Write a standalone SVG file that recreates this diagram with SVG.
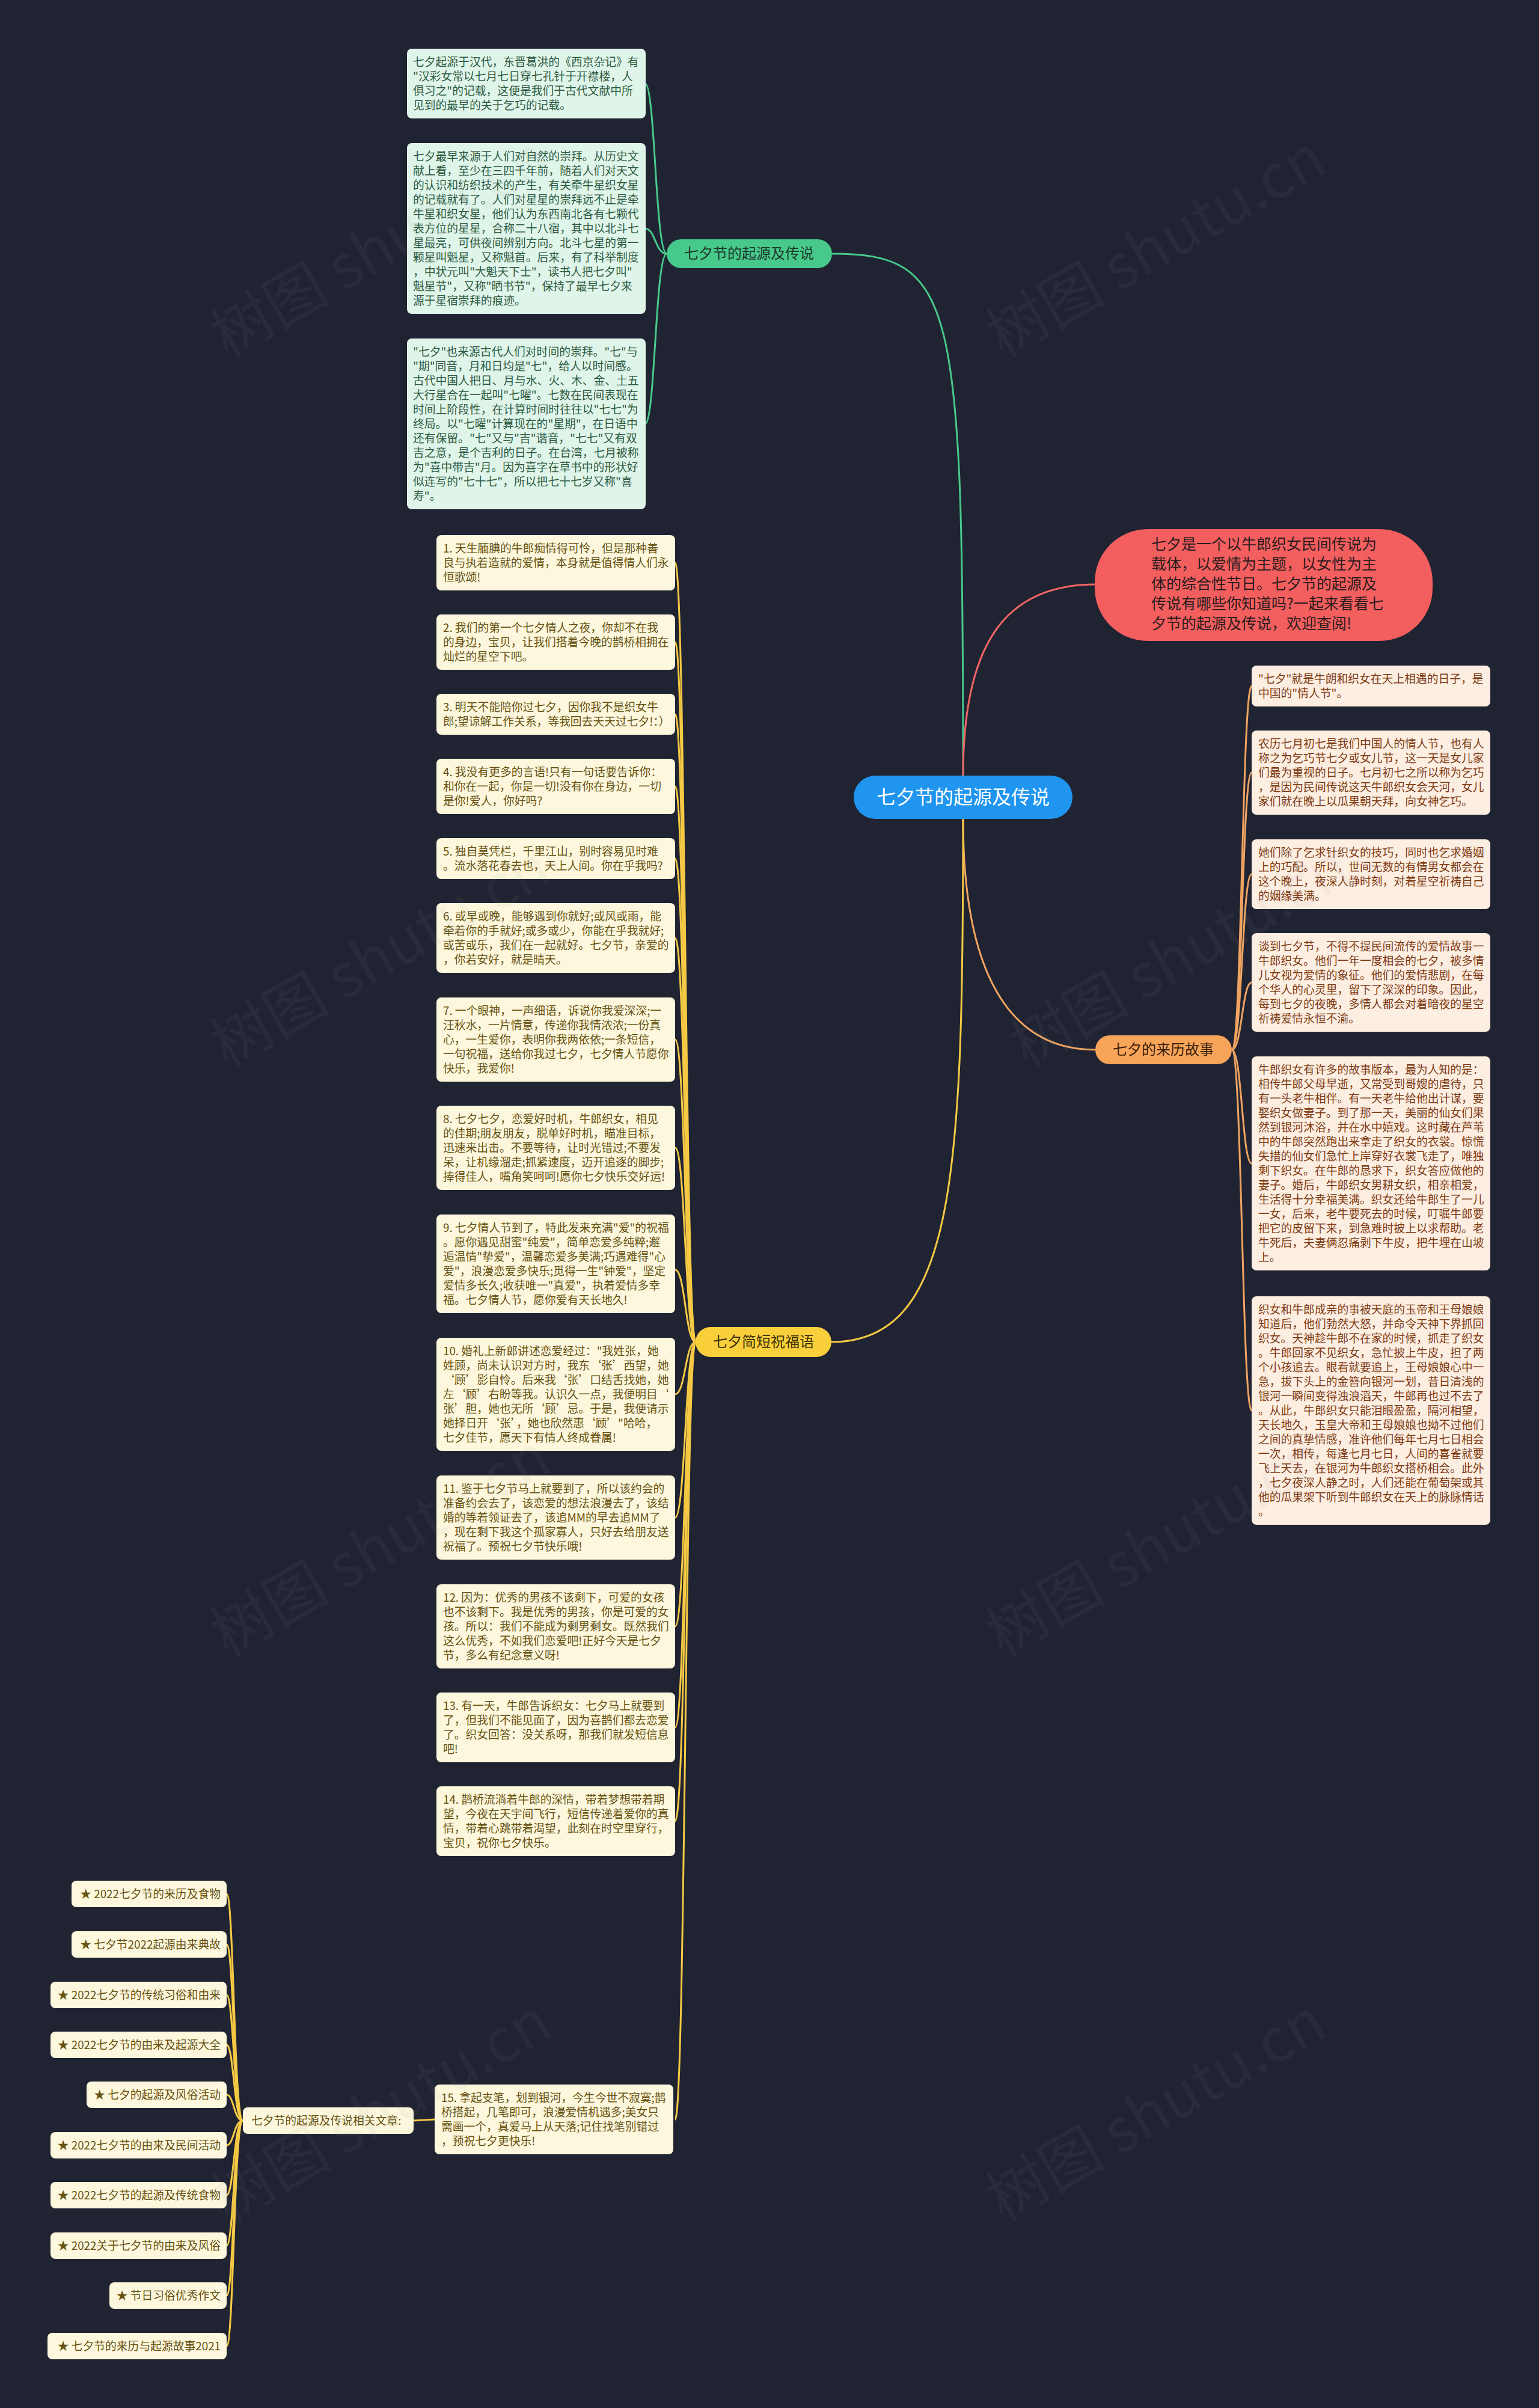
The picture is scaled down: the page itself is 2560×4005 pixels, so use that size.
<svg xmlns="http://www.w3.org/2000/svg" width="2560" height="4005" viewBox="0 0 2560 4005">
<style>
text{font-family:"Noto Sans CJK SC","Noto Sans",sans-serif;}
.bg{fill:#202332;}
.gbox{fill:#e0f5ea;}
.gtxt{fill:#2d5a41;font-size:18.8px;}
.ybox{fill:#fdf7dd;}
.ytxt{fill:#665211;font-size:18.8px;}
.obox{fill:#fdeee2;}
.otxt{fill:#7d3a12;font-size:18.8px;}
.gl{fill:none;stroke:#47c98b;stroke-width:3;}
.yl{fill:none;stroke:#f5c944;stroke-width:3;}
.ol{fill:none;stroke:#f0a461;stroke-width:3;}
.rl{fill:none;stroke:#ef6665;stroke-width:3;}
.wm{fill:#9a9aa6;opacity:0.07;font-size:100px;}
</style>
<rect class="bg" x="0" y="0" width="2560" height="4005"/>

<g id="connectors">
<path class="gl" d="M1602,1290 C1602,500 1590,422 1384,422"/>
<path class="rl" d="M1602,1290 C1602,1060 1680,972 1822,972"/>
<path class="ol" d="M1602,1362 C1602,1620 1680,1746 1822,1746"/>
<path class="yl" d="M1602,1362 C1602,1950 1590,2232 1383,2232"/>
<path class="gl" d="M1109,422 C1090,422 1090,139 1073,139"/>
<path class="gl" d="M1109,422 C1090,422 1090,380 1073,380"/>
<path class="gl" d="M1109,422 C1090,422 1090,705 1073,705"/>
<path class="ol" d="M2049,1746 C2066,1746 2066,1141 2082,1141"/>
<path class="ol" d="M2049,1746 C2066,1746 2066,1285 2082,1285"/>
<path class="ol" d="M2049,1746 C2066,1746 2066,1454 2082,1454"/>
<path class="ol" d="M2049,1746 C2066,1746 2066,1634 2082,1634"/>
<path class="ol" d="M2049,1746 C2066,1746 2066,1935 2082,1935"/>
<path class="ol" d="M2049,1746 C2066,1746 2066,2346 2082,2346"/>
<path class="yl" d="M1157,2232 C1140,2232 1140,936 1123,936"/>
<path class="yl" d="M1157,2232 C1140,2232 1140,1068 1123,1068"/>
<path class="yl" d="M1157,2232 C1140,2232 1140,1188 1123,1188"/>
<path class="yl" d="M1157,2232 C1140,2232 1140,1308 1123,1308"/>
<path class="yl" d="M1157,2232 C1140,2232 1140,1428 1123,1428"/>
<path class="yl" d="M1157,2232 C1140,2232 1140,1560 1123,1560"/>
<path class="yl" d="M1157,2232 C1140,2232 1140,1729 1123,1729"/>
<path class="yl" d="M1157,2232 C1140,2232 1140,1909 1123,1909"/>
<path class="yl" d="M1157,2232 C1140,2232 1140,2112 1123,2112"/>
<path class="yl" d="M1157,2232 C1140,2232 1140,2319 1123,2319"/>
<path class="yl" d="M1157,2232 C1140,2232 1140,2524 1123,2524"/>
<path class="yl" d="M1157,2232 C1140,2232 1140,2705 1123,2705"/>
<path class="yl" d="M1157,2232 C1140,2232 1140,2873 1123,2873"/>
<path class="yl" d="M1157,2232 C1140,2232 1140,3029 1123,3029"/>
<path class="yl" d="M1157,2232 C1140,2232 1140,3525 1123,3525"/>
<path class="yl" d="M723,3525 L688,3527"/>
<path class="yl" d="M404,3527 C389,3527 389,3150 377,3150"/>
<path class="yl" d="M404,3527 C389,3527 389,3234 377,3234"/>
<path class="yl" d="M404,3527 C389,3527 389,3318 377,3318"/>
<path class="yl" d="M404,3527 C389,3527 389,3401 377,3401"/>
<path class="yl" d="M404,3527 C389,3527 389,3484 377,3484"/>
<path class="yl" d="M404,3527 C389,3527 389,3568 377,3568"/>
<path class="yl" d="M404,3527 C389,3527 389,3651 377,3651"/>
<path class="yl" d="M404,3527 C389,3527 389,3735 377,3735"/>
<path class="yl" d="M404,3527 C389,3527 389,3818 377,3818"/>
<path class="yl" d="M404,3527 C389,3527 389,3902 377,3902"/>
</g>

<g id="center">
<rect x="1420" y="1290" width="364" height="72" rx="36" fill="#1f95ef"/>
<text x="1602" y="1337" text-anchor="middle" fill="#ffffff" font-size="32">七夕节的起源及传说</text>
</g>

<g id="intro">
<rect x="1821" y="880" width="562" height="186" rx="88" fill="#f35e5f"/>
<text fill="#2b1c1c" font-size="25"><tspan x="1915" y="914">七夕是一个以牛郎织女民间传说为</tspan><tspan x="1915" dy="33">载体，以爱情为主题，以女性为主</tspan><tspan x="1915" dy="33">体的综合性节日。七夕节的起源及</tspan><tspan x="1915" dy="33">传说有哪些你知道吗?一起来看看七</tspan><tspan x="1915" dy="33">夕节的起源及传说，欢迎查阅!</tspan></text>
</g>

<g id="branch-origin">
<rect x="1109" y="398" width="275" height="48" rx="24" fill="#47c98b"/>
<text x="1246" y="430" text-anchor="middle" fill="#1c3a2a" font-size="24">七夕节的起源及传说</text>
</g>
<g id="origin-1">
<rect class="gbox" x="677" y="81" width="397" height="116" rx="8"/>
<text class="gtxt"><tspan x="687" y="110">七夕起源于汉代，东晋葛洪的《西京杂记》有</tspan><tspan x="687" dy="24">"汉彩女常以七月七日穿七孔针于开襟楼，人</tspan><tspan x="687" dy="24">俱习之"的记载，这便是我们于古代文献中所</tspan><tspan x="687" dy="24">见到的最早的关于乞巧的记载。</tspan></text>
</g>
<g id="origin-2">
<rect class="gbox" x="677" y="238" width="397" height="284" rx="8"/>
<text class="gtxt"><tspan x="687" y="267">七夕最早来源于人们对自然的崇拜。从历史文</tspan><tspan x="687" dy="24">献上看，至少在三四千年前，随着人们对天文</tspan><tspan x="687" dy="24">的认识和纺织技术的产生，有关牵牛星织女星</tspan><tspan x="687" dy="24">的记载就有了。人们对星星的崇拜远不止是牵</tspan><tspan x="687" dy="24">牛星和织女星，他们认为东西南北各有七颗代</tspan><tspan x="687" dy="24">表方位的星星，合称二十八宿，其中以北斗七</tspan><tspan x="687" dy="24">星最亮，可供夜间辨别方向。北斗七星的第一</tspan><tspan x="687" dy="24">颗星叫魁星，又称魁首。后来，有了科举制度</tspan><tspan x="687" dy="24">，中状元叫"大魁天下士"，读书人把七夕叫"</tspan><tspan x="687" dy="24">魁星节"，又称"晒书节"，保持了最早七夕来</tspan><tspan x="687" dy="24">源于星宿崇拜的痕迹。</tspan></text>
</g>
<g id="origin-3">
<rect class="gbox" x="677" y="563" width="397" height="284" rx="8"/>
<text class="gtxt"><tspan x="687" y="592">"七夕"也来源古代人们对时间的崇拜。"七"与</tspan><tspan x="687" dy="24">"期"同音，月和日均是"七"，给人以时间感。</tspan><tspan x="687" dy="24">古代中国人把日、月与水、火、木、金、土五</tspan><tspan x="687" dy="24">大行星合在一起叫"七曜"。七数在民间表现在</tspan><tspan x="687" dy="24">时间上阶段性，在计算时间时往往以"七七"为</tspan><tspan x="687" dy="24">终局。以"七曜"计算现在的"星期"，在日语中</tspan><tspan x="687" dy="24">还有保留。"七"又与"吉"谐音，"七七"又有双</tspan><tspan x="687" dy="24">吉之意，是个吉利的日子。在台湾，七月被称</tspan><tspan x="687" dy="24">为"喜中带吉"月。因为喜字在草书中的形状好</tspan><tspan x="687" dy="24">似连写的"七十七"，所以把七十七岁又称"喜</tspan><tspan x="687" dy="24">寿"。</tspan></text>
</g>

<g id="branch-story">
<rect x="1822" y="1722" width="227" height="48" rx="24" fill="#f8a55a"/>
<text x="1935" y="1754" text-anchor="middle" fill="#3a1e08" font-size="24">七夕的来历故事</text>
</g>
<g id="story-1">
<rect class="obox" x="2082" y="1107" width="397" height="68" rx="8"/>
<text class="otxt"><tspan x="2093" y="1136">"七夕"就是牛朗和织女在天上相遇的日子，是</tspan><tspan x="2093" dy="24">中国的"情人节"。</tspan></text>
</g>
<g id="story-2">
<rect class="obox" x="2082" y="1215" width="397" height="140" rx="8"/>
<text class="otxt"><tspan x="2093" y="1244">农历七月初七是我们中国人的情人节，也有人</tspan><tspan x="2093" dy="24">称之为乞巧节七夕或女儿节，这一天是女儿家</tspan><tspan x="2093" dy="24">们最为重视的日子。七月初七之所以称为乞巧</tspan><tspan x="2093" dy="24">，是因为民间传说这天牛郎织女会天河，女儿</tspan><tspan x="2093" dy="24">家们就在晚上以瓜果朝天拜，向女神乞巧。</tspan></text>
</g>
<g id="story-3">
<rect class="obox" x="2082" y="1396" width="397" height="116" rx="8"/>
<text class="otxt"><tspan x="2093" y="1425">她们除了乞求针织女的技巧，同时也乞求婚姻</tspan><tspan x="2093" dy="24">上的巧配。所以，世间无数的有情男女都会在</tspan><tspan x="2093" dy="24">这个晚上，夜深人静时刻，对着星空祈祷自己</tspan><tspan x="2093" dy="24">的姻缘美满。</tspan></text>
</g>
<g id="story-4">
<rect class="obox" x="2082" y="1552" width="397" height="164" rx="8"/>
<text class="otxt"><tspan x="2093" y="1581">谈到七夕节，不得不提民间流传的爱情故事一</tspan><tspan x="2093" dy="24">牛郎织女。他们一年一度相会的七夕，被多情</tspan><tspan x="2093" dy="24">儿女视为爱情的象征。他们的爱情悲剧，在每</tspan><tspan x="2093" dy="24">个华人的心灵里，留下了深深的印象。因此，</tspan><tspan x="2093" dy="24">每到七夕的夜晚，多情人都会对着暗夜的星空</tspan><tspan x="2093" dy="24">祈祷爱情永恒不渝。</tspan></text>
</g>
<g id="story-5">
<rect class="obox" x="2082" y="1757" width="397" height="356" rx="8"/>
<text class="otxt"><tspan x="2093" y="1786">牛郎织女有许多的故事版本，最为人知的是：</tspan><tspan x="2093" dy="24">相传牛郎父母早逝，又常受到哥嫂的虐待，只</tspan><tspan x="2093" dy="24">有一头老牛相伴。有一天老牛给他出计谋，要</tspan><tspan x="2093" dy="24">娶织女做妻子。到了那一天，美丽的仙女们果</tspan><tspan x="2093" dy="24">然到银河沐浴，并在水中嬉戏。这时藏在芦苇</tspan><tspan x="2093" dy="24">中的牛郎突然跑出来拿走了织女的衣裳。惊慌</tspan><tspan x="2093" dy="24">失措的仙女们急忙上岸穿好衣裳飞走了，唯独</tspan><tspan x="2093" dy="24">剩下织女。在牛郎的恳求下，织女答应做他的</tspan><tspan x="2093" dy="24">妻子。婚后，牛郎织女男耕女织，相亲相爱，</tspan><tspan x="2093" dy="24">生活得十分幸福美满。织女还给牛郎生了一儿</tspan><tspan x="2093" dy="24">一女，后来，老牛要死去的时候，叮嘱牛郎要</tspan><tspan x="2093" dy="24">把它的皮留下来，到急难时披上以求帮助。老</tspan><tspan x="2093" dy="24">牛死后，夫妻俩忍痛剥下牛皮，把牛埋在山坡</tspan><tspan x="2093" dy="24">上。</tspan></text>
</g>
<g id="story-6">
<rect class="obox" x="2082" y="2156" width="397" height="380" rx="8"/>
<text class="otxt"><tspan x="2093" y="2185">织女和牛郎成亲的事被天庭的玉帝和王母娘娘</tspan><tspan x="2093" dy="24">知道后，他们勃然大怒，并命令天神下界抓回</tspan><tspan x="2093" dy="24">织女。天神趁牛郎不在家的时候，抓走了织女</tspan><tspan x="2093" dy="24">。牛郎回家不见织女，急忙披上牛皮，担了两</tspan><tspan x="2093" dy="24">个小孩追去。眼看就要追上，王母娘娘心中一</tspan><tspan x="2093" dy="24">急，拔下头上的金簪向银河一划，昔日清浅的</tspan><tspan x="2093" dy="24">银河一瞬间变得浊浪滔天，牛郎再也过不去了</tspan><tspan x="2093" dy="24">。从此，牛郎织女只能泪眼盈盈，隔河相望，</tspan><tspan x="2093" dy="24">天长地久，玉皇大帝和王母娘娘也拗不过他们</tspan><tspan x="2093" dy="24">之间的真挚情感，准许他们每年七月七日相会</tspan><tspan x="2093" dy="24">一次，相传，每逢七月七日，人间的喜雀就要</tspan><tspan x="2093" dy="24">飞上天去，在银河为牛郎织女搭桥相会。此外</tspan><tspan x="2093" dy="24">，七夕夜深人静之时，人们还能在葡萄架或其</tspan><tspan x="2093" dy="24">他的瓜果架下听到牛郎织女在天上的脉脉情话</tspan><tspan x="2093" dy="24">。</tspan></text>
</g>

<g id="branch-wishes">
<rect x="1157" y="2207" width="226" height="50" rx="25" fill="#f9cf3c"/>
<text x="1270" y="2240" text-anchor="middle" fill="#3a3005" font-size="24">七夕简短祝福语</text>
</g>
<g id="wish-1">
<rect class="ybox" x="726" y="890" width="397" height="92" rx="8"/>
<text class="ytxt"><tspan x="737" y="919">1. 天生腼腆的牛郎痴情得可怜，但是那种善</tspan><tspan x="737" dy="24">良与执着造就的爱情，本身就是值得情人们永</tspan><tspan x="737" dy="24">恒歌颂!</tspan></text>
</g>
<g id="wish-2">
<rect class="ybox" x="726" y="1022" width="397" height="92" rx="8"/>
<text class="ytxt"><tspan x="737" y="1051">2. 我们的第一个七夕情人之夜，你却不在我</tspan><tspan x="737" dy="24">的身边，宝贝，让我们搭着今晚的鹊桥相拥在</tspan><tspan x="737" dy="24">灿烂的星空下吧。</tspan></text>
</g>
<g id="wish-3">
<rect class="ybox" x="726" y="1154" width="397" height="68" rx="8"/>
<text class="ytxt"><tspan x="737" y="1183">3. 明天不能陪你过七夕，因你我不是织女牛</tspan><tspan x="737" dy="24">郎;望谅解工作关系，等我回去天天过七夕!：）</tspan></text>
</g>
<g id="wish-4">
<rect class="ybox" x="726" y="1262" width="397" height="92" rx="8"/>
<text class="ytxt"><tspan x="737" y="1291">4. 我没有更多的言语!只有一句话要告诉你：</tspan><tspan x="737" dy="24">和你在一起，你是一切!没有你在身边，一切</tspan><tspan x="737" dy="24">是你!爱人，你好吗?</tspan></text>
</g>
<g id="wish-5">
<rect class="ybox" x="726" y="1394" width="397" height="68" rx="8"/>
<text class="ytxt"><tspan x="737" y="1423">5. 独自莫凭栏，千里江山，别时容易见时难</tspan><tspan x="737" dy="24">。流水落花春去也，天上人间。你在乎我吗?</tspan></text>
</g>
<g id="wish-6">
<rect class="ybox" x="726" y="1502" width="397" height="116" rx="8"/>
<text class="ytxt"><tspan x="737" y="1531">6. 或早或晚，能够遇到你就好;或风或雨，能</tspan><tspan x="737" dy="24">牵着你的手就好;或多或少，你能在乎我就好;</tspan><tspan x="737" dy="24">或苦或乐，我们在一起就好。七夕节，亲爱的</tspan><tspan x="737" dy="24">，你若安好，就是晴天。</tspan></text>
</g>
<g id="wish-7">
<rect class="ybox" x="726" y="1659" width="397" height="140" rx="8"/>
<text class="ytxt"><tspan x="737" y="1688">7. 一个眼神，一声细语，诉说你我爱深深;一</tspan><tspan x="737" dy="24">汪秋水，一片情意，传递你我情浓浓;一份真</tspan><tspan x="737" dy="24">心，一生爱你，表明你我两依依;一条短信，</tspan><tspan x="737" dy="24">一句祝福，送给你我过七夕，七夕情人节愿你</tspan><tspan x="737" dy="24">快乐，我爱你!</tspan></text>
</g>
<g id="wish-8">
<rect class="ybox" x="726" y="1839" width="397" height="140" rx="8"/>
<text class="ytxt"><tspan x="737" y="1868">8. 七夕七夕，恋爱好时机，牛郎织女，相见</tspan><tspan x="737" dy="24">的佳期;朋友朋友，脱单好时机，瞄准目标，</tspan><tspan x="737" dy="24">迅速来出击。不要等待，让时光错过;不要发</tspan><tspan x="737" dy="24">呆，让机缘溜走;抓紧速度，迈开追逐的脚步;</tspan><tspan x="737" dy="24">捧得佳人，嘴角笑呵呵!愿你七夕快乐交好运!</tspan></text>
</g>
<g id="wish-9">
<rect class="ybox" x="726" y="2020" width="397" height="164" rx="8"/>
<text class="ytxt"><tspan x="737" y="2049">9. 七夕情人节到了，特此发来充满"爱"的祝福</tspan><tspan x="737" dy="24">。愿你遇见甜蜜"纯爱"，简单恋爱多纯粹;邂</tspan><tspan x="737" dy="24">逅温情"挚爱"，温馨恋爱多美满;巧遇难得"心</tspan><tspan x="737" dy="24">爱"，浪漫恋爱多快乐;觅得一生"钟爱"，坚定</tspan><tspan x="737" dy="24">爱情多长久;收获唯一"真爱"，执着爱情多幸</tspan><tspan x="737" dy="24">福。七夕情人节，愿你爱有天长地久!</tspan></text>
</g>
<g id="wish-10">
<rect class="ybox" x="726" y="2225" width="397" height="188" rx="8"/>
<text class="ytxt"><tspan x="737" y="2254">10. 婚礼上新郎讲述恋爱经过："我姓张，她</tspan><tspan x="737" dy="24">姓顾，尚未认识对方时，我东‘张’西望，她</tspan><tspan x="737" dy="24">‘顾’影自怜。后来我‘张’口结舌找她，她</tspan><tspan x="737" dy="24">左‘顾’右盼等我。认识久一点，我便明目‘</tspan><tspan x="737" dy="24">张’胆，她也无所‘顾’忌。于是，我便请示</tspan><tspan x="737" dy="24">她择日开‘张’，她也欣然惠‘顾’"哈哈，</tspan><tspan x="737" dy="24">七夕佳节，愿天下有情人终成眷属!</tspan></text>
</g>
<g id="wish-11">
<rect class="ybox" x="726" y="2454" width="397" height="140" rx="8"/>
<text class="ytxt"><tspan x="737" y="2483">11. 鉴于七夕节马上就要到了，所以该约会的</tspan><tspan x="737" dy="24">准备约会去了，该恋爱的想法浪漫去了，该结</tspan><tspan x="737" dy="24">婚的等着领证去了，该追MM的早去追MM了</tspan><tspan x="737" dy="24">，现在剩下我这个孤家寡人，只好去给朋友送</tspan><tspan x="737" dy="24">祝福了。预祝七夕节快乐哦!</tspan></text>
</g>
<g id="wish-12">
<rect class="ybox" x="726" y="2635" width="397" height="140" rx="8"/>
<text class="ytxt"><tspan x="737" y="2664">12. 因为：优秀的男孩不该剩下，可爱的女孩</tspan><tspan x="737" dy="24">也不该剩下。我是优秀的男孩，你是可爱的女</tspan><tspan x="737" dy="24">孩。所以：我们不能成为剩男剩女。既然我们</tspan><tspan x="737" dy="24">这么优秀，不如我们恋爱吧!正好今天是七夕</tspan><tspan x="737" dy="24">节，多么有纪念意义呀!</tspan></text>
</g>
<g id="wish-13">
<rect class="ybox" x="726" y="2815" width="397" height="116" rx="8"/>
<text class="ytxt"><tspan x="737" y="2844">13. 有一天，牛郎告诉织女：七夕马上就要到</tspan><tspan x="737" dy="24">了，但我们不能见面了，因为喜鹊们都去恋爱</tspan><tspan x="737" dy="24">了。织女回答：没关系呀，那我们就发短信息</tspan><tspan x="737" dy="24">吧!</tspan></text>
</g>
<g id="wish-14">
<rect class="ybox" x="726" y="2971" width="397" height="116" rx="8"/>
<text class="ytxt"><tspan x="737" y="3000">14. 鹊桥流淌着牛郎的深情，带着梦想带着期</tspan><tspan x="737" dy="24">望，今夜在天宇间飞行，短信传递着爱你的真</tspan><tspan x="737" dy="24">情，带着心跳带着渴望，此刻在时空里穿行，</tspan><tspan x="737" dy="24">宝贝，祝你七夕快乐。</tspan></text>
</g>
<g id="wish-15">
<rect class="ybox" x="723" y="3467" width="397" height="116" rx="8"/>
<text class="ytxt"><tspan x="734" y="3496">15. 拿起支笔，划到银河，今生今世不寂寞;鹊</tspan><tspan x="734" dy="24">桥搭起，几笔即可，浪漫爱情机遇多;美女只</tspan><tspan x="734" dy="24">需画一个，真爱马上从天落;记住找笔别错过</tspan><tspan x="734" dy="24">，预祝七夕更快乐!</tspan></text>
</g>

<g id="related">
<rect class="ybox" x="404" y="3505" width="284" height="44" rx="8"/>
<text class="ytxt" x="418" y="3534">七夕节的起源及传说相关文章:</text>
</g>
<g id="rel-1"><rect class="ybox" x="119" y="3128" width="258" height="44" rx="8"/><text class="ytxt" x="367" y="3157" text-anchor="end">★ 2022七夕节的来历及食物</text></g>
<g id="rel-2"><rect class="ybox" x="119" y="3212" width="258" height="44" rx="8"/><text class="ytxt" x="367" y="3241" text-anchor="end">★ 七夕节2022起源由来典故</text></g>
<g id="rel-3"><rect class="ybox" x="84" y="3296" width="293" height="44" rx="8"/><text class="ytxt" x="367" y="3325" text-anchor="end">★ 2022七夕节的传统习俗和由来</text></g>
<g id="rel-4"><rect class="ybox" x="84" y="3379" width="293" height="44" rx="8"/><text class="ytxt" x="367" y="3408" text-anchor="end">★ 2022七夕节的由来及起源大全</text></g>
<g id="rel-5"><rect class="ybox" x="144" y="3462" width="233" height="44" rx="8"/><text class="ytxt" x="367" y="3491" text-anchor="end">★ 七夕的起源及风俗活动</text></g>
<g id="rel-6"><rect class="ybox" x="84" y="3546" width="293" height="44" rx="8"/><text class="ytxt" x="367" y="3575" text-anchor="end">★ 2022七夕节的由来及民间活动</text></g>
<g id="rel-7"><rect class="ybox" x="84" y="3629" width="293" height="44" rx="8"/><text class="ytxt" x="367" y="3658" text-anchor="end">★ 2022七夕节的起源及传统食物</text></g>
<g id="rel-8"><rect class="ybox" x="84" y="3713" width="293" height="44" rx="8"/><text class="ytxt" x="367" y="3742" text-anchor="end">★ 2022关于七夕节的由来及风俗</text></g>
<g id="rel-9"><rect class="ybox" x="182" y="3796" width="195" height="44" rx="8"/><text class="ytxt" x="367" y="3825" text-anchor="end">★ 节日习俗优秀作文</text></g>
<g id="rel-10"><rect class="ybox" x="79" y="3880" width="298" height="44" rx="8"/><text class="ytxt" x="367" y="3909" text-anchor="end">★ 七夕节的来历与起源故事2021</text></g>

<g id="watermark">
<text class="wm" transform="translate(650,440) rotate(-30)" text-anchor="middle">树图 shutu.cn</text>
<text class="wm" transform="translate(1940,440) rotate(-30)" text-anchor="middle">树图 shutu.cn</text>
<text class="wm" transform="translate(650,1620) rotate(-30)" text-anchor="middle">树图 shutu.cn</text>
<text class="wm" transform="translate(1980,1620) rotate(-30)" text-anchor="middle">树图 shutu.cn</text>
<text class="wm" transform="translate(650,2600) rotate(-30)" text-anchor="middle">树图 shutu.cn</text>
<text class="wm" transform="translate(1940,2600) rotate(-30)" text-anchor="middle">树图 shutu.cn</text>
<text class="wm" transform="translate(652,3540) rotate(-30)" text-anchor="middle">树图 shutu.cn</text>
<text class="wm" transform="translate(1940,3540) rotate(-30)" text-anchor="middle">树图 shutu.cn</text>
</g>
</svg>
